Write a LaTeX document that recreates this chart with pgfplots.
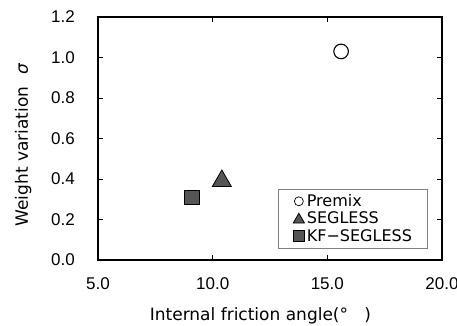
\documentclass[border=0pt]{standalone}
\usepackage{pgfplots}
\pgfplotsset{compat=1.18}
\usepackage{fontspec}
\setmainfont{DejaVu Sans}
\newfontfamily\tickfont{Liberation Sans}
\definecolor{mk}{HTML}{555555}
\newcommand{\fs}{\fontsize{17}{20}\selectfont}
\begin{document}
\begin{tikzpicture}
\begin{axis}[name=ax, scale only axis, width=344pt, height=243pt,
 xmin=5, xmax=20, ymin=0, ymax=1.2,
 xtick={5,10,15,20}, ytick={0,0.2,0.4,0.6,0.8,1.0,1.2},
 tick align=inside, major tick length=5pt,
 axis line style={line width=1.1pt},
 every tick/.style={black, line width=0.6pt},
 tick label style={font=\tickfont\fontsize{17}{20}\selectfont, inner sep=0pt},
 label style={font=\fs},
 /pgf/number format/.cd, fixed, fixed zerofill, precision=1, assume math mode=true, /pgfplots/.cd,
 yticklabel style={anchor=east, xshift=-23pt},
 xticklabel style={anchor=base, yshift=-29pt},
 xlabel={Internal friction angle(°\hspace{0.95em})},
 ylabel={Weight variation\hspace{0.7em}{\itshape σ}},
 xlabel style={at={(axis description cs:0.472,-0.247)}, anchor=base},
 ylabel style={at={(axis description cs:-0.2035,0.473)}, anchor=base},
 legend style={at={(axis description cs:0.957,0.049)}, anchor=south east, draw=gray, line width=0.5pt,
   font=\fontsize{16}{19}\selectfont, row sep=0pt, inner xsep=15pt, inner ysep=3pt,
   nodes={inner xsep=0pt, inner ysep=2pt},
   /tikz/every odd column/.append style={column sep=2pt}},
 legend cell align=left,
]
\addplot[only marks, mark=o, mark size=7.3pt, line width=1.1pt, black,
  legend image code/.code={\path[draw=none, fill=none] (0pt,-1pt) rectangle (12pt,1pt); \draw[black, line width=0.7pt] plot[mark=o, mark size=4.5pt] coordinates {(6pt,0pt)};}]
  coordinates {(15.6,1.03)};
\addlegendentry{Premix\hspace{5pt}}
\addplot[only marks, mark=triangle*, mark size=11pt, mark options={fill=mk, draw=black, line width=0.8pt},
  legend image code/.code={\path[draw=none, fill=none] (0pt,-1pt) rectangle (12pt,1pt); \draw[black, fill=mk, line width=0.6pt] plot[mark=triangle*, mark size=6.5pt] coordinates {(6pt,-1pt)};}]
  coordinates {(10.4,0.39)};
\addlegendentry{SEGLESS\hspace{5pt}}
\addplot[only marks, mark=square*, mark size=7.2pt, mark options={fill=mk, draw=black, line width=0.8pt},
  legend image code/.code={\path[draw=none, fill=none] (0pt,-1pt) rectangle (12pt,1pt); \draw[black, fill=mk, line width=0.6pt] plot[mark=square*, mark size=5.5pt] coordinates {(6pt,0pt)};}]
  coordinates {(9.1,0.31)};
\addlegendentry{KF−SEGLESS\hspace{5pt}}
\end{axis}
\pgfresetboundingbox
\path[use as bounding box] ([xshift=-98pt,yshift=-65pt]ax.south west) rectangle ([xshift=15pt,yshift=17pt]ax.north east);
\end{tikzpicture}
\end{document}
